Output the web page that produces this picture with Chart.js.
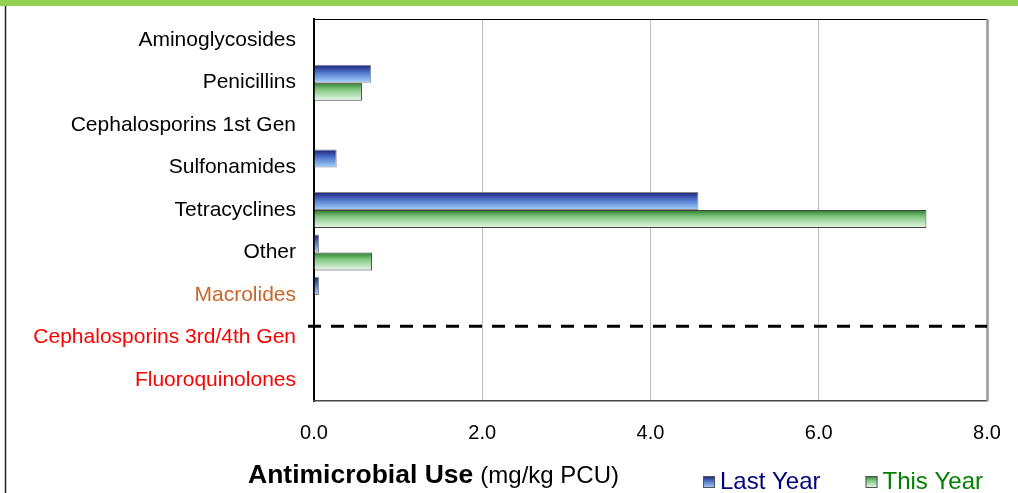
<!DOCTYPE html>
<html>
<head>
<meta charset="utf-8">
<script src="https://cdn.jsdelivr.net/npm/chart.js@4"></script>
<style>
  html, body { margin: 0; padding: 0; background: #fff; }
  #wrap { position: relative; width: 1018px; height: 493px; }
</style>
</head>
<body>
<div id="wrap"><canvas id="amu-chart" width="1018" height="493"></canvas></div>
<script>
// datos del gráfico
const categories = [
    'Aminoglycosides',
    'Penicillins',
    'Cephalosporins 1st Gen',
    'Sulfonamides',
    'Tetracyclines',
    'Other',
    'Macrolides',
    'Cephalosporins 3rd/4th Gen',
    'Fluoroquinolones'
];
const lastYear = [0, 0.68, 0, 0.27, 4.57, 0.06, 0.06, 0, 0];
const thisYear = [0, 0.57, 0, 0, 7.28, 0.69, 0, 0, 0];
const xTicks = [0, 2, 4, 6, 8];

// colores de las etiquetas (importancia crítica)
const labelColors = ['#000', '#000', '#000', '#000', '#000', '#000', '#C8662A', '#FF0000', '#FF0000'];

const CAT_PCT = 0.85;
const FONT = '"Liberation Sans", Arial, sans-serif';

const blueStops = [[0, '#1B1F78'], [0.45, '#4F78CC'], [1, '#A9D3FF']];
const greenStops = [[0, '#2A7A2A'], [0.35, '#7CC47C'], [1, '#ECF9EC']];

// degradado vertical para cada barra, calculado desde la escala
function barFill(stops, upper, fallback) {
    return function(context) {
        const chart = context.chart;
        const y = chart.scales.y;
        if (!y || !isFinite(y.height) || y.height <= 0) return fallback;
        const c = y.getPixelForValue(context.dataIndex);
        const half = (y.height / categories.length) * CAT_PCT / 2;
        const top = upper ? c - half : c;
        const bottom = upper ? c : c + half;
        const g = chart.ctx.createLinearGradient(0, top, 0, bottom);
        stops.forEach(s => g.addColorStop(s[0], s[1]));
        return g;
    };
}

// marco, borde del área, línea discontinua, título y leyenda
const decorPlugin = {
    id: 'decor',
    beforeDraw(chart) {
        const ctx = chart.ctx;
        ctx.save();
        ctx.fillStyle = '#92D050';
        ctx.fillRect(0, 0, chart.width, 6);
        ctx.strokeStyle = '#222';
        ctx.lineWidth = 1.5;
        ctx.beginPath();
        ctx.moveTo(5.5, 6);
        ctx.lineTo(5.5, chart.height);
        ctx.stroke();
        ctx.restore();
    },
    afterDatasetsDraw(chart) {
        const ctx = chart.ctx;
        const a = chart.chartArea;
        ctx.save();
        ctx.strokeStyle = '#000';
        ctx.lineWidth = 1;
        ctx.beginPath();
        ctx.moveTo(a.left, a.top + 0.5);
        ctx.lineTo(a.right, a.top + 0.5);
        ctx.stroke();
        ctx.strokeStyle = '#999';
        ctx.lineWidth = 2.5;
        ctx.beginPath();
        ctx.moveTo(a.right + 0.5, a.top);
        ctx.lineTo(a.right + 0.5, a.bottom);
        ctx.stroke();
        // línea discontinua entre Macrolides y Cephalosporins 3rd/4th Gen
        const yd = chart.scales.y.getPixelForValue(6.74);
        ctx.strokeStyle = '#000';
        ctx.lineWidth = 3;
        ctx.setLineDash([13, 10]);
        ctx.beginPath();
        ctx.moveTo(a.left - 6, yd);
        ctx.lineTo(a.right, yd);
        ctx.stroke();
        ctx.restore();
    },
    afterDraw(chart) {
        const ctx = chart.ctx;
        ctx.save();
        ctx.textBaseline = 'alphabetic';
        // título del eje con dos estilos
        ctx.fillStyle = '#000';
        ctx.font = 'bold 26.5px ' + FONT;
        const t1 = 'Antimicrobial Use';
        ctx.fillText(t1, 248, 483);
        const w = ctx.measureText(t1).width;
        ctx.font = '24px ' + FONT;
        ctx.fillText('(mg/kg PCU)', 248 + w + 7, 483);

        // leyenda
        const items = [
            { text: chart.data.datasets[0].label, stops: blueStops, color: '#000080' },
            { text: chart.data.datasets[1].label, stops: greenStops, color: '#008000' }
        ];
        let x = 703;
        const by = 476, bs = 12;
        ctx.font = '24px ' + FONT;
        items.forEach(it => {
            const g = ctx.createLinearGradient(0, by, 0, by + bs);
            it.stops.forEach(s => g.addColorStop(s[0], s[1]));
            ctx.fillStyle = g;
            ctx.fillRect(x, by, bs, bs);
            ctx.strokeStyle = '#555';
            ctx.lineWidth = 1;
            ctx.strokeRect(x + 0.5, by + 0.5, bs - 1, bs - 1);
            ctx.fillStyle = it.color;
            ctx.fillText(it.text, x + bs + 5, 489);
            x += bs + 5 + ctx.measureText(it.text).width + 45;
        });
        ctx.restore();
    }
};

const ctx = document.getElementById('amu-chart').getContext('2d');
new Chart(ctx, {
    type: 'bar',
    data: {
        labels: categories,
        datasets: [{
            label: 'Last Year',
            data: lastYear,
            backgroundColor: barFill(blueStops, true, '#5A7FD0'),
            borderColor: '#8A8A8A',
            borderWidth: 1,
            categoryPercentage: CAT_PCT,
            barPercentage: 1
        }, {
            label: 'This Year',
            data: thisYear,
            backgroundColor: barFill(greenStops, false, '#8CC88C'),
            borderColor: '#444',
            borderWidth: 1,
            categoryPercentage: CAT_PCT,
            barPercentage: 1
        }]
    },
    options: {
        indexAxis: 'y',
        responsive: false,
        animation: false,
        layout: {
            padding: { top: 19, right: 31, left: 0, bottom: 0 }
        },
        scales: {
            y: {
                ticks: {
                    font: { family: FONT, size: 21 },
                    color: (c) => labelColors[c.index] || '#000',
                    padding: 18
                },
                grid: { display: false, drawTicks: false },
                border: { color: '#000', width: 2 },
                afterFit(scale) {
                    scale.width = 314;
                    scale.paddingTop = 0;
                    scale.paddingBottom = 0;
                }
            },
            x: {
                min: 0,
                max: 8,
                afterBuildTicks(scale) { scale.ticks = xTicks.map(v => ({ value: v })); },
                ticks: {
                    font: { family: FONT, size: 20 },
                    color: '#000',
                    padding: 20,
                    callback: (v) => Number(v).toFixed(1)
                },
                grid: {
                    drawTicks: false,
                    color: (c) => (c.tick && (c.tick.value === 0 || c.tick.value === 8)) ? 'rgba(0,0,0,0)' : '#BDBDBD',
                    lineWidth: 1
                },
                border: { color: '#444', width: 1.5 },
                afterFit(scale) {
                    scale.height = 92;
                    scale.paddingLeft = 0;
                    scale.paddingRight = 0;
                }
            }
        },
        plugins: {
            tooltip: { enabled: false },
            legend: { display: false }
        }
    },
    plugins: [decorPlugin]
});
</script>
</body>
</html>
